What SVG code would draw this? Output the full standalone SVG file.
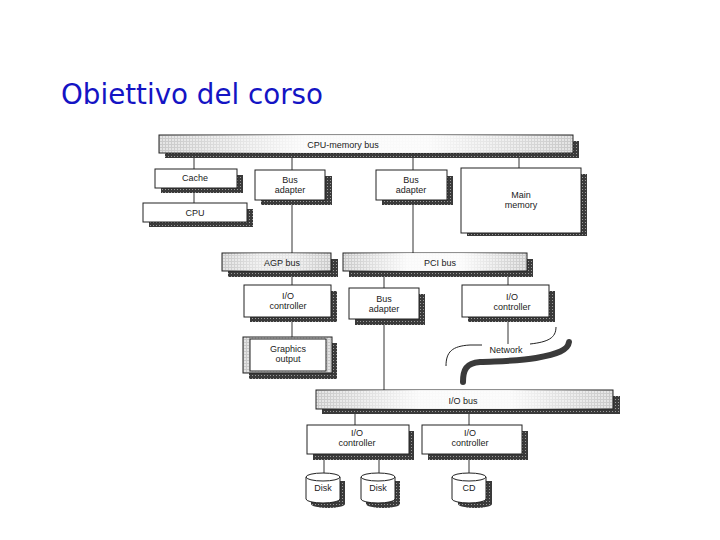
<svg xmlns="http://www.w3.org/2000/svg" width="720" height="540" viewBox="0 0 720 540">
<defs>
<pattern id="shp" width="3" height="3" patternUnits="userSpaceOnUse">
<rect width="3" height="3" fill="#3a3a3a"/>
<rect x="0" y="0" width="1" height="1" fill="#9a9a9a"/>
</pattern>
<pattern id="grid" width="3" height="3" patternUnits="userSpaceOnUse">
<rect width="3" height="3" fill="#e4e4e4"/>
<rect x="0" y="0" width="3" height="1" fill="#c8c8c8"/>
<rect x="0" y="0" width="1" height="3" fill="#c8c8c8"/>
</pattern>
<linearGradient id="busfade" x1="0" y1="0" x2="1" y2="0">
<stop offset="0" stop-color="#fff" stop-opacity="0"/>
<stop offset="0.35" stop-color="#fff" stop-opacity="0.9"/>
<stop offset="0.65" stop-color="#fff" stop-opacity="0.9"/>
<stop offset="1" stop-color="#fff" stop-opacity="0"/>
</linearGradient>
<style>
.sh{fill:url(#shp)}
.box{fill:#fff;stroke:#222;stroke-width:1}
.bus{fill:url(#grid);stroke:#222;stroke-width:1}
.fade{fill:url(#busfade)}
.t{font-family:"Liberation Sans",Arial,sans-serif;font-size:9px;fill:#222;text-anchor:middle}
.ln{stroke:#333;stroke-width:1;fill:none}
</style>
</defs>
<rect width="720" height="540" fill="#fff"/>
<text x="61" y="104" font-family="'DejaVu Sans',Tahoma,sans-serif" font-size="28" fill="#1414c4" textLength="262" lengthAdjust="spacingAndGlyphs">Obiettivo del corso</text>

<g id="connectors">
<line class="ln" x1="194" y1="152" x2="194" y2="169"/>
<line class="ln" x1="194" y1="188" x2="194" y2="203"/>
<line class="ln" x1="292" y1="152" x2="292" y2="170"/>
<line class="ln" x1="292" y1="200" x2="292" y2="253"/>
<line class="ln" x1="413" y1="152" x2="413" y2="170"/>
<line class="ln" x1="413" y1="200" x2="413" y2="253"/>
<line class="ln" x1="519" y1="152" x2="519" y2="168"/>
<line class="ln" x1="292" y1="271" x2="292" y2="285"/>
<line class="ln" x1="292" y1="317" x2="292" y2="337"/>
<line class="ln" x1="384" y1="271" x2="384" y2="288"/>
<line class="ln" x1="384" y1="319" x2="384" y2="390"/>
<line class="ln" x1="508" y1="271" x2="508" y2="285"/>
<line class="ln" x1="508" y1="317" x2="508" y2="344"/>
<line class="ln" x1="355" y1="409" x2="355" y2="425"/>
<line class="ln" x1="469" y1="409" x2="469" y2="425"/>
<line class="ln" x1="324" y1="454" x2="324" y2="475"/>
<line class="ln" x1="379" y1="454" x2="379" y2="475" stroke-width="2"/>
<line class="ln" x1="469" y1="454" x2="469" y2="475"/>
</g>

<g id="cpu-memory-bus">
<rect class="sh" x="165" y="141" width="414" height="17"/>
<rect class="bus" x="159" y="135" width="414" height="18"/>
<rect class="fade" x="159" y="135" width="414" height="18"/>
<text class="t" x="343" y="148">CPU-memory bus</text>
</g>
<g id="cache">
<rect class="sh" x="161" y="175" width="82" height="18"/>
<rect class="box" x="155" y="169" width="82" height="19"/>
<text class="t" x="195" y="181">Cache</text>
</g>
<g id="cpu">
<rect class="sh" x="149" y="209" width="104" height="18"/>
<rect class="box" x="143" y="203" width="104" height="19"/>
<text class="t" x="195" y="216">CPU</text>
</g>
<g id="bus-adapter-1">
<rect class="sh" x="261" y="176" width="71" height="29"/>
<rect class="box" x="255" y="170" width="70" height="30"/>
<text class="t" x="290" y="183">Bus</text>
<text class="t" x="290" y="193">adapter</text>
</g>
<g id="bus-adapter-2">
<rect class="sh" x="382" y="176" width="71" height="29"/>
<rect class="box" x="376" y="170" width="71" height="30"/>
<text class="t" x="411" y="183">Bus</text>
<text class="t" x="411" y="193">adapter</text>
</g>
<g id="main-memory">
<rect class="sh" x="467" y="174" width="120" height="62"/>
<rect class="box" x="461" y="168" width="120" height="65"/>
<text class="t" x="521" y="198">Main</text>
<text class="t" x="521" y="208">memory</text>
</g>
<g id="agp-bus">
<rect class="sh" x="228" y="259" width="110" height="18"/>
<rect class="bus" x="222" y="253" width="109" height="18"/>
<rect class="fade" x="222" y="253" width="109" height="18" opacity="0.6"/>
<text class="t" x="282" y="266">AGP bus</text>
</g>
<g id="pci-bus">
<rect class="sh" x="349" y="259" width="184" height="18"/>
<rect class="bus" x="343" y="253" width="184" height="18"/>
<rect class="fade" x="343" y="253" width="184" height="18"/>
<text class="t" x="440" y="266">PCI bus</text>
</g>
<g id="io-controller-agp">
<rect class="sh" x="250" y="291" width="87" height="31"/>
<rect class="box" x="244" y="285" width="87" height="32"/>
<text class="t" x="288" y="299">I/O</text>
<text class="t" x="288" y="309">controller</text>
</g>
<g id="bus-adapter-3">
<rect class="sh" x="355" y="294" width="70" height="31"/>
<rect class="box" x="349" y="288" width="70" height="31"/>
<text class="t" x="384" y="302">Bus</text>
<text class="t" x="384" y="312">adapter</text>
</g>
<g id="io-controller-pci">
<rect class="sh" x="468" y="291" width="87" height="31"/>
<rect class="box" x="462" y="285" width="87" height="32"/>
<text class="t" x="512" y="300">I/O</text>
<text class="t" x="512" y="310">controller</text>
</g>
<g id="graphics-output">
<rect class="sh" x="249" y="343" width="88" height="36"/>
<rect class="box" x="243" y="337" width="89" height="36" fill="#ddd" style="fill:url(#grid)"/>
<rect class="box" x="250" y="339" width="76" height="32"/>
<text class="t" x="288" y="352">Graphics</text>
<text class="t" x="288" y="362">output</text>
</g>
<g id="network">
<path d="M446 366 C446 352 452 346 470 345 L482 345 M530 344 C548 342 556 338 556 327" fill="none" stroke="#222" stroke-width="1"/>
<path d="M463 382 C463 370 466 363 480 362 C500 361 520 361 536 358 C558 354 568 350 569 342" fill="none" stroke="#3a3a3a" stroke-width="6" stroke-linecap="round"/>
<text class="t" x="506" y="353">Network</text>
</g>
<g id="io-bus">
<rect class="sh" x="322" y="396" width="298" height="18"/>
<rect class="bus" x="316" y="390" width="297" height="19"/>
<rect class="fade" x="316" y="390" width="297" height="19"/>
<text class="t" x="463" y="404">I/O bus</text>
</g>
<g id="io-controller-disks">
<rect class="sh" x="313" y="431" width="101" height="29"/>
<rect class="box" x="307" y="425" width="102" height="29"/>
<text class="t" x="357" y="436">I/O</text>
<text class="t" x="357" y="446">controller</text>
</g>
<g id="io-controller-cd">
<rect class="sh" x="428" y="431" width="100" height="29"/>
<rect class="box" x="422" y="425" width="100" height="29"/>
<text class="t" x="470" y="436">I/O</text>
<text class="t" x="470" y="446">controller</text>
</g>
<g id="disk-1">
<path class="sh" d="M311 481 L311 504 A17 4 0 0 0 345 504 L345 481 Z"/>
<path class="box" d="M306 477 L306 499 A17 4 0 0 0 340 499 L340 477"/>
<ellipse class="box" cx="323" cy="477" rx="17" ry="4"/>
<text class="t" x="323" y="491">Disk</text>
</g>
<g id="disk-2">
<path class="sh" d="M366 481 L366 504 A17 4 0 0 0 400 504 L400 481 Z"/>
<path class="box" d="M361 477 L361 499 A17 4 0 0 0 395 499 L395 477"/>
<ellipse class="box" cx="378" cy="477" rx="17" ry="4"/>
<text class="t" x="378" y="491">Disk</text>
</g>
<g id="cd">
<path class="sh" d="M458 481 L458 504 A17 4 0 0 0 492 504 L492 481 Z"/>
<path class="box" d="M452 477 L452 499 A17 4 0 0 0 486 499 L486 477"/>
<ellipse class="box" cx="469" cy="477" rx="17" ry="4"/>
<text class="t" x="469" y="491">CD</text>
</g>
</svg>
